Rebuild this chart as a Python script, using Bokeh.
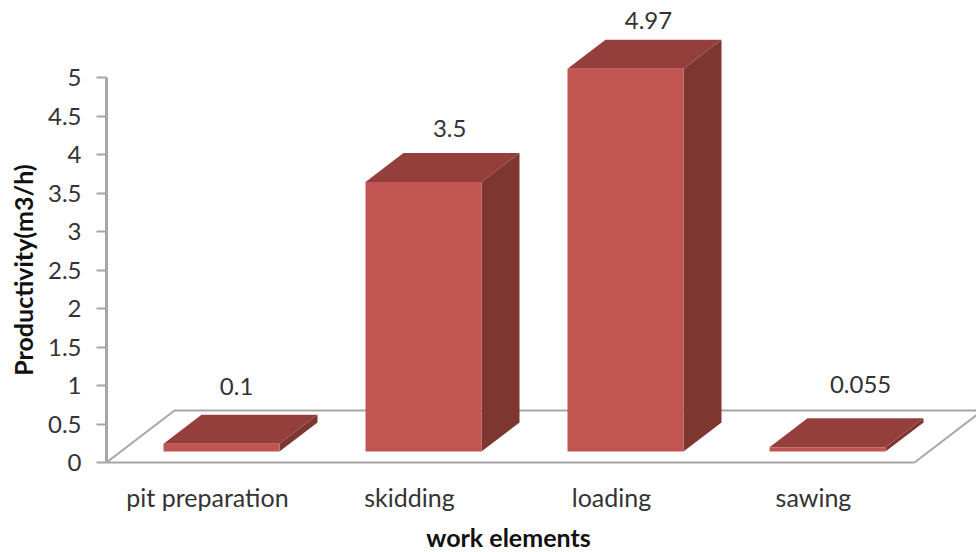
from math import pi
from bokeh.plotting import figure
from bokeh.models import LinearAxis, FixedTicker, Range1d, ColumnDataSource
from bokeh.core.properties import value
from bokeh.embed import file_html
from bokeh.resources import INLINE

categories = ["pit preparation", "skidding", "loading", "sawing"]
productivity = [0.1, 3.5, 4.97, 0.055]
value_labels = ["0.1", "3.5", "4.97", "0.055"]
y_ticks = [0, 0.5, 1, 1.5, 2, 2.5, 3, 3.5, 4, 4.5, 5]
y_tick_labels = ["0", "0.5", "1", "1.5", "2", "2.5", "3", "3.5", "4", "4.5", "5"]

# Page layout, in pixels
WIDTH, HEIGHT = 976, 552
LEFT, BASE = 106, 462
PX_X, PX_Y = 202, 77

# Oblique projection of the 3D look, in data units
FLOOR_DX, FLOOR_DY = 68 / PX_X, 52 / PX_Y
BAR_DX, BAR_DY = 38 / PX_X, 29 / PX_Y
BAR_LIFT = 11 / PX_Y
BAR_OFFSET = 57 / PX_X
BAR_WIDTH = 116 / PX_X

# Hand-placed value labels above each bar
label_x = [0.644, 1.699, 2.683, 3.733]
label_y = [0.987, 4.34, 5.74, 1.013]

FONT = "Lato"
GRAY = "#a6a6a6"
TEXT = "#333333"
TITLE = "#111111"

# The frame fills the page; axes are pinned at zero so the margins stay drawable
p = figure(width=WIDTH, height=HEIGHT, output_backend="svg", toolbar_location=None,
           x_range=Range1d(-LEFT / PX_X, (WIDTH - LEFT) / PX_X),
           y_range=Range1d((BASE - HEIGHT) / PX_Y, BASE / PX_Y),
           x_axis_type=None, y_axis_type=None,
           min_border_left=0, min_border_right=0, min_border_top=0, min_border_bottom=0,
           outline_line_color=None)
p.grid.visible = False
p.background_fill_color = "white"

# Floor of the chart box
p.line([0, FLOOR_DX, 4 + FLOOR_DX], [0, FLOOR_DY, FLOOR_DY], line_color=GRAY, line_width=2)
p.line([4, 4 + FLOOR_DX], [0, FLOOR_DY], line_color=GRAY, line_width=2)

# Each bar is three faces: side, top and front
front_x, front_y, top_x, top_y, side_x, side_y = [], [], [], [], [], []
for i, v in enumerate(productivity):
    x0 = i + BAR_OFFSET
    x1 = x0 + BAR_WIDTH
    y0 = BAR_LIFT
    y1 = BAR_LIFT + v
    front_x.append([x0, x1, x1, x0])
    front_y.append([y0, y0, y1, y1])
    top_x.append([x0, x1, x1 + BAR_DX, x0 + BAR_DX])
    top_y.append([y1, y1, y1 + BAR_DY, y1 + BAR_DY])
    side_x.append([x1, x1 + BAR_DX, x1 + BAR_DX, x1])
    side_y.append([y0, y0 + BAR_DY, y1 + BAR_DY, y1])

p.patches(side_x, side_y, fill_color="#7e3631", line_color=None)
p.patches(top_x, top_y, fill_color="#943f3c", line_color=None)
p.patches(front_x, front_y, fill_color="#c15551", line_color=None)

p.text(x="x", y="y", text="t",
       source=ColumnDataSource(dict(x=label_x, y=label_y, t=value_labels)),
       text_font=value(FONT), text_font_size="24px", text_color=TEXT,
       text_align="center", text_baseline="middle")

y_axis = LinearAxis(ticker=FixedTicker(ticks=y_ticks), bounds=(0, 5), fixed_location=0,
                    major_label_overrides=dict(zip(y_ticks, y_tick_labels)),
                    major_label_text_font=FONT, major_label_text_font_size="24px",
                    major_label_text_color=TEXT, major_label_standoff=15,
                    axis_line_color=GRAY, axis_line_width=3,
                    major_tick_line_color=GRAY, major_tick_line_width=2,
                    major_tick_in=0, major_tick_out=10, minor_tick_line_color=None)
p.add_layout(y_axis, "left")

x_ticks = [i + 0.5 for i in range(len(categories))]
x_axis = LinearAxis(ticker=FixedTicker(ticks=x_ticks), bounds=(0, 4), fixed_location=0,
                    major_label_overrides=dict(zip(x_ticks, categories)),
                    major_label_text_font=FONT, major_label_text_font_size="25px",
                    major_label_text_color=TEXT, major_label_standoff=19,
                    axis_line_color=GRAY, axis_line_width=2,
                    major_tick_in=0, major_tick_out=0,
                    major_tick_line_color=None, minor_tick_line_color=None)
p.add_layout(x_axis, "below")

# Axis titles, centred on the spans of their axes
p.text(x=[(22 - LEFT) / PX_X], y=[2.5], text=["Productivity(m3/h)"], angle=pi / 2,
       text_font=value(FONT), text_font_style="bold", text_font_size="25px",
       text_color=TITLE, text_align="center", text_baseline="middle")
p.text(x=[(508 - LEFT) / PX_X], y=[(BASE - 536) / PX_Y], text=["work elements"],
       text_font=value(FONT), text_font_style="bold", text_font_size="25px",
       text_color=TITLE, text_align="center", text_baseline="middle")

open("out.html", "w").write(file_html(p, INLINE))
